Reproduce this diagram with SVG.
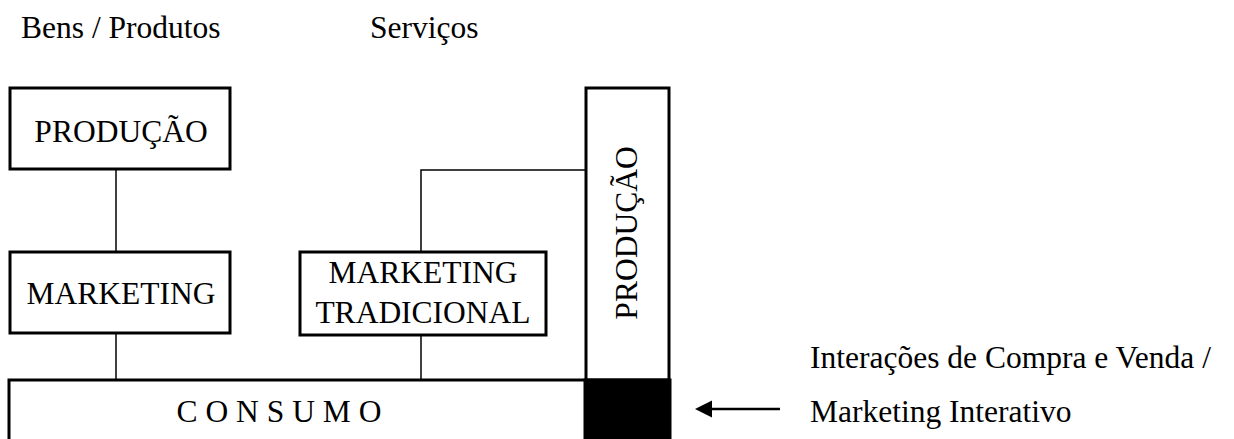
<svg xmlns="http://www.w3.org/2000/svg" width="1234" height="439" viewBox="0 0 1234 439">
<defs>
<style>
text{font-family:"Liberation Serif","Times New Roman",serif;font-size:31.5px;fill:#000}
.box{fill:#fff;stroke:#000;stroke-width:3}
.ln{stroke:#000;stroke-width:1.5;fill:none}
.c{text-anchor:middle}
</style>
</defs>
<rect width="1234" height="439" fill="#fff"/>
<text x="21" y="38">Bens / Produtos</text>
<text x="370" y="38">Serviços</text>
<g id="connectors">
<line class="ln" x1="116" y1="169" x2="116" y2="252"/>
<line class="ln" x1="116" y1="333" x2="116" y2="380"/>
<polyline class="ln" points="421,252 421,170 585,170"/>
<line class="ln" x1="421" y1="335" x2="421" y2="380"/>
<line x1="780" y1="409" x2="705" y2="409" stroke="#000" stroke-width="2.7"/>
<path d="M695,409 L712,400.5 L712,417.5 Z" fill="#000"/>
</g>
<g id="consumo">
<rect class="box" x="9" y="380" width="577" height="80"/>
<text class="c" x="279" y="422">C O N S U M O</text>
</g>
<g id="producao-bens">
<rect class="box" x="10" y="88" width="220" height="81"/>
<text class="c" x="121" y="142">PRODUÇÃO</text>
</g>
<g id="marketing">
<rect class="box" x="10" y="252" width="220" height="81"/>
<text class="c" x="121" y="304">MARKETING</text>
</g>
<g id="marketing-tradicional">
<rect class="box" x="300" y="252" width="246" height="83"/>
<text class="c" x="423" y="283">MARKETING</text>
<text class="c" x="423" y="323">TRADICIONAL</text>
</g>
<g id="producao-servicos">
<rect class="box" x="586" y="88" width="83" height="292"/>
<text class="c" transform="translate(637,233) rotate(-90)" x="0" y="0">PRODUÇÃO</text>
</g>
<g id="interacao">
<rect x="585" y="380" width="85" height="70" fill="#000" stroke="#000" stroke-width="3"/>
</g>
<text x="810" y="368">Interações de Compra e Venda /</text>
<text x="810" y="422">Marketing Interativo</text>
</svg>
